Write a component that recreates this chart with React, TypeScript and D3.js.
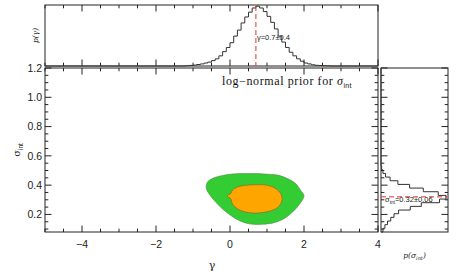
import React from "react";
import * as d3 from "d3";

// gamma marginal histogram (left bin edges, width 0.1)
const gammaBins = [
  -1.2, -1.1, -1.0, -0.9, -0.8, -0.7, -0.6, -0.5, -0.4, -0.3, -0.2, -0.1, 0.0,
  0.1, 0.2, 0.3, 0.4, 0.5, 0.6, 0.7, 0.8, 0.9, 1.0, 1.1, 1.2, 1.3, 1.4, 1.5,
  1.6, 1.7, 1.8, 1.9, 2.0, 2.1, 2.2, 2.3, 2.4, 2.5, 2.6,
];
const gammaHist = [
  0.005, 0.01, 0.015, 0.025, 0.035, 0.05, 0.065, 0.09, 0.12, 0.17, 0.24, 0.31,
  0.39, 0.5, 0.6, 0.72, 0.82, 0.9, 0.97, 1.0, 0.97, 0.91, 0.83, 0.73, 0.62,
  0.5, 0.4, 0.31, 0.23, 0.17, 0.12, 0.08, 0.05, 0.035, 0.02, 0.012, 0.008,
  0.005, 0.003,
];
const gammaBinWidth = 0.1;

// sigma_int marginal histogram (lower bin edges, width 0.025)
const sigmaBins = [
  0.08, 0.105, 0.13, 0.155, 0.18, 0.205, 0.23, 0.255, 0.28, 0.305, 0.33, 0.355,
  0.38, 0.405, 0.43, 0.455, 0.48, 0.505,
];
const sigmaHist = [
  0.03, 0.06, 0.1, 0.15, 0.2, 0.27, 0.45, 0.62, 0.9, 1.0, 0.88, 0.65, 0.44,
  0.26, 0.14, 0.07, 0.03, 0.01,
];
const sigmaBinWidth = 0.025;

// credible region outlines [gamma, sigma_int]
const outerContour: [number, number][] = [
  [-0.64, 0.399], [-0.61, 0.421], [-0.48, 0.445], [-0.3, 0.46], [-0.03, 0.474],
  [0.33, 0.479], [0.69, 0.479], [1.05, 0.474], [1.32, 0.467], [1.55, 0.445],
  [1.78, 0.41], [1.91, 0.364], [2.0, 0.33], [1.95, 0.296], [1.82, 0.25],
  [1.64, 0.205], [1.41, 0.164], [1.14, 0.14], [0.78, 0.132], [0.51, 0.136],
  [0.24, 0.159], [0.02, 0.193], [-0.21, 0.239], [-0.43, 0.296], [-0.57, 0.342],
  [-0.64, 0.376],
];
const innerContour: [number, number][] = [
  [-0.07, 0.33], [0.02, 0.342], [0.06, 0.364], [0.2, 0.387], [0.42, 0.399],
  [0.74, 0.403], [1.01, 0.399], [1.24, 0.376], [1.37, 0.342], [1.41, 0.308],
  [1.37, 0.273], [1.24, 0.239], [0.96, 0.216], [0.69, 0.209], [0.42, 0.216],
  [0.2, 0.239], [0.06, 0.273], [0.02, 0.308], [-0.07, 0.323],
];

const gammaBest = 0.7;
const sigmaBest = 0.32;

const xTickLabels = [-4, -2, 0, 2, 4];
const yTickLabels = [0.2, 0.4, 0.6, 0.8, 1.0, 1.2];

const frame = "#222";
const histColor = "#333";
const red = "#e0302a";
const tickFont = "'Liberation Sans', Arial, sans-serif";

export default function App() {
  const x = d3.scaleLinear().domain([-5, 4]).range([45, 378]);
  const y = d3.scaleLinear().domain([0.08, 1.2]).range([232, 68]);
  const pTop = d3.scaleLinear().domain([0, 1.02]).range([66, 5]);
  const pRight = d3.scaleLinear().domain([0, 1.03]).range([381, 448]);

  const xMinor = x.ticks(18);
  const yMinor = y.ticks(22);
  const isMajorX = (v: number) => Math.abs(v / 2 - Math.round(v / 2)) < 1e-6;
  const isMajorY = (v: number) => Math.abs(v / 0.2 - Math.round(v / 0.2)) < 1e-6;

  // top histogram outline
  const topPts: [number, number][] = [[-5, 0], [gammaBins[0], 0]];
  gammaBins.forEach((b, i) => {
    topPts.push([b, gammaHist[i]], [b + gammaBinWidth, gammaHist[i]]);
  });
  topPts.push([gammaBins[gammaBins.length - 1] + gammaBinWidth, 0], [4, 0]);
  const topLine = d3
    .line<[number, number]>()
    .x((d) => x(d[0]))
    .y((d) => pTop(d[1]));

  // right histogram outline (sigma on y, p on x)
  const rightPts: [number, number][] = [[0, sigmaBins[0]]];
  sigmaBins.forEach((b, i) => {
    rightPts.push([sigmaHist[i], b], [sigmaHist[i], b + sigmaBinWidth]);
  });
  rightPts.push([0, sigmaBins[sigmaBins.length - 1] + sigmaBinWidth], [0, 1.2]);
  const rightLine = d3
    .line<[number, number]>()
    .x((d) => pRight(d[0]))
    .y((d) => y(d[1]));

  const contour = d3
    .line<[number, number]>()
    .x((d) => x(d[0]))
    .y((d) => y(d[1]))
    .curve(d3.curveCatmullRomClosed.alpha(0.5));

  const [mx0, mx1] = x.range();
  const [my0, my1] = [y.range()[1], y.range()[0]];
  const [tx0, tx1] = [pTop.range()[1], pTop.range()[0]];
  const [rx0, rx1] = pRight.range();

  return (
    <svg
      width={457}
      height={274}
      style={{ position: "absolute", left: 0, top: 0, background: "#fff" }}
    >
      {/* contours */}
      <path d={contour(outerContour) || ""} fill="#33cc33" stroke="#5a8a4a" strokeWidth={0.6} />
      <path d={contour(innerContour) || ""} fill="#ffa500" stroke="#8a6a2a" strokeWidth={0.7} />

      {/* main frame */}
      <rect x={mx0} y={my0} width={mx1 - mx0} height={my1 - my0} fill="none" stroke={frame} strokeWidth={1} />
      {xMinor.map((v) => {
        const len = isMajorX(v) ? 6.5 : 3.3;
        return (
          <g key={"mx" + v}>
            <line x1={x(v)} x2={x(v)} y1={my1} y2={my1 - len} stroke={frame} />
            <line x1={x(v)} x2={x(v)} y1={my0} y2={my0 + len} stroke={frame} />
            <line x1={x(v)} x2={x(v)} y1={tx1} y2={tx1 - len} stroke={frame} />
            <line x1={x(v)} x2={x(v)} y1={tx0} y2={tx0 + len} stroke={frame} />
          </g>
        );
      })}
      {yMinor.map((v) => {
        const len = isMajorY(v) ? 6.5 : 3.3;
        return (
          <g key={"my" + v}>
            <line x1={mx0} x2={mx0 + len} y1={y(v)} y2={y(v)} stroke={frame} />
            <line x1={mx1} x2={mx1 - len} y1={y(v)} y2={y(v)} stroke={frame} />
            <line x1={rx0} x2={rx0 + len} y1={y(v)} y2={y(v)} stroke={frame} />
            <line x1={rx1} x2={rx1 - len} y1={y(v)} y2={y(v)} stroke={frame} />
          </g>
        );
      })}
      {xTickLabels.map((v) => (
        <text
          key={"xl" + v}
          x={x(v)}
          y={248}
          textAnchor="middle"
          fontFamily={tickFont}
          fontSize={10.5}
          fill="#222"
        >
          {v < 0 ? "\u2212" + Math.abs(v) : String(v)}
        </text>
      ))}
      {yTickLabels.map((v) => (
        <text
          key={"yl" + v}
          x={42}
          y={y(v) + 3.8}
          textAnchor="end"
          fontFamily={tickFont}
          fontSize={10.5}
          fill="#222"
        >
          {v.toFixed(1)}
        </text>
      ))}
      <text x={212} y={269} textAnchor="middle" fontFamily="'DejaVu Serif', serif" fontSize={11} fill="#222">
        γ
      </text>
      <text
        transform={`translate(20,${(my0 + my1) / 2}) rotate(-90)`}
        textAnchor="middle"
        fontFamily="'DejaVu Serif', serif"
        fontSize={10}
        fill="#222"
      >
        σ<tspan fontSize={6.5} dy={2.5} fontFamily={tickFont}>int</tspan>
      </text>
      <text x={222} y={85} fontFamily="'Liberation Serif', serif" fontSize={12} letterSpacing={0.6} fill="#111">
        log−normal prior for <tspan fontStyle="italic">σ</tspan>
        <tspan fontSize={7} dy={2.5} fontFamily={tickFont} letterSpacing={0.2}>int</tspan>
      </text>

      {/* top panel */}
      <rect x={mx0} y={tx0} width={mx1 - mx0} height={tx1 - tx0} fill="none" stroke={frame} strokeWidth={1} />
      <path d={topLine(topPts) || ""} fill="none" stroke={histColor} strokeWidth={1} />
      <line x1={x(gammaBest)} x2={x(gammaBest)} y1={tx0 + 1} y2={tx1} stroke={red} strokeWidth={1} strokeDasharray="5,3" />
      <text x={x(gammaBest) + 1} y={40} fontFamily={tickFont} fontSize={7.5} fill="#222">
        γ=0.7±0.4
      </text>
      <text
        transform={`translate(38,${(tx0 + tx1) / 2}) rotate(-90)`}
        textAnchor="middle"
        fontFamily="'DejaVu Serif', serif"
        fontSize={7.5}
        fontStyle="italic"
        fill="#222"
      >
        p(γ)
      </text>

      {/* right panel */}
      <rect x={rx0} y={my0} width={rx1 - rx0} height={my1 - my0} fill="none" stroke={frame} strokeWidth={1} />
      <path d={rightLine(rightPts) || ""} fill="none" stroke={histColor} strokeWidth={1} />
      <line x1={rx0} x2={rx1 - 1} y1={y(sigmaBest)} y2={y(sigmaBest)} stroke={red} strokeWidth={1} strokeDasharray="5,3" />
      <text x={385} y={202} fontFamily={tickFont} fontSize={7.5} fill="#222">
        σ<tspan fontSize={5} dy={1.5}>int</tspan>
        <tspan dy={-1.5}>=0.32±0.06</tspan>
      </text>
      <text x={(rx0 + rx1) / 2} y={258} textAnchor="middle" fontFamily="'DejaVu Serif', serif" fontSize={7.5} fontStyle="italic" fill="#222">
        p(σ<tspan fontSize={5} dy={1.5}>int</tspan>
        <tspan dy={-1.5}>)</tspan>
      </text>
    </svg>
  );
}
